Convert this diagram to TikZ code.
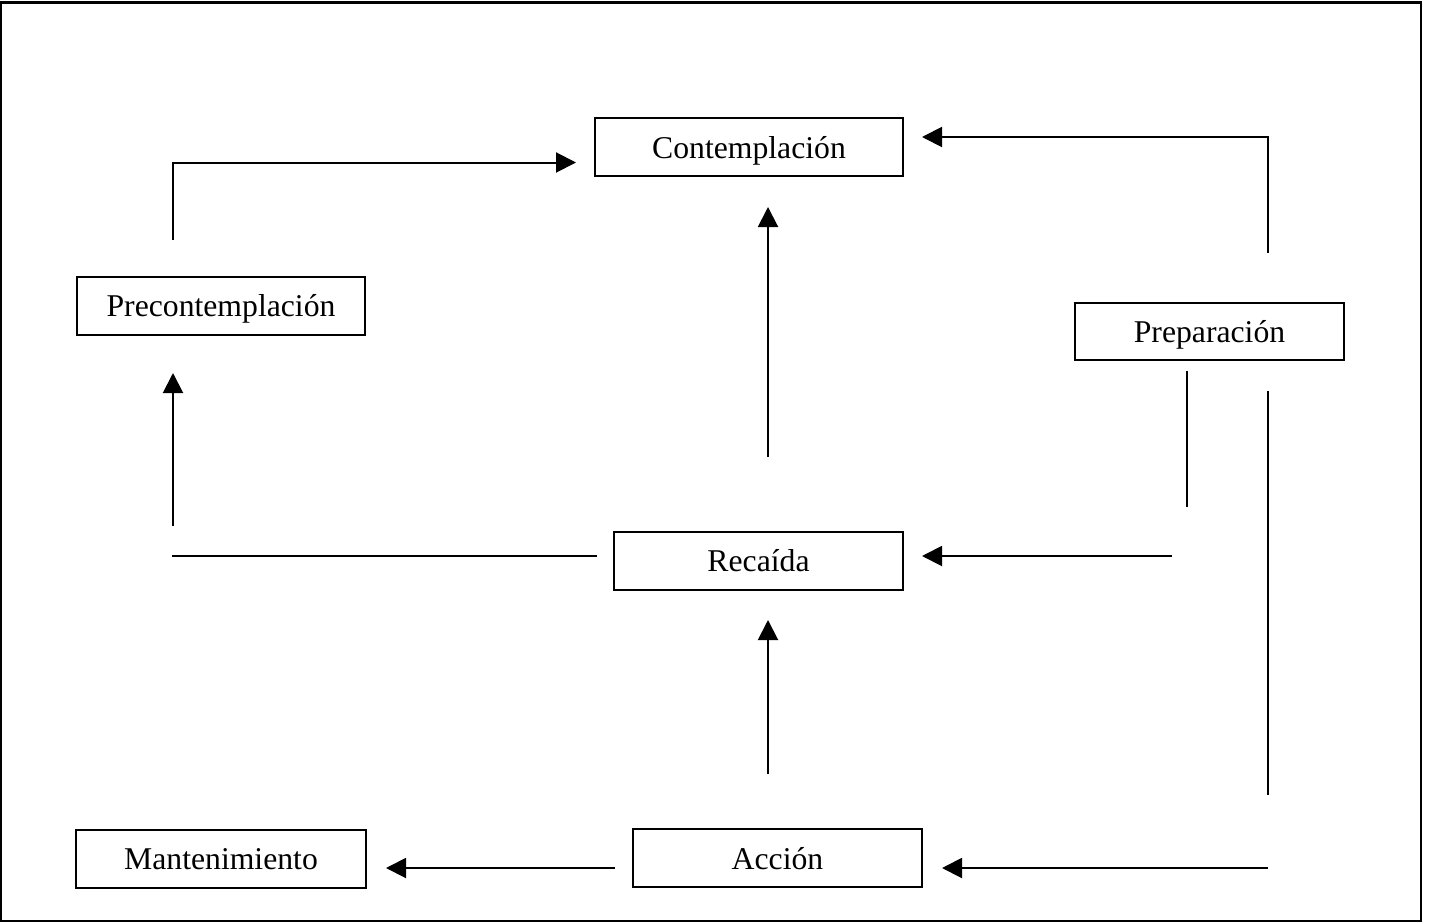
\documentclass[tikz,border=0pt]{standalone}
\usepackage{fontspec}
\setmainfont{Liberation Serif}
\usetikzlibrary{arrows.meta}
\begin{document}
\begin{tikzpicture}[x=1pt,y=-1pt,
  stage/.style={draw=black,line width=2pt,rectangle,minimum height=58pt,inner sep=0pt,
    text height=22pt,text depth=0pt,
    font=\fontsize{31.7}{36}\selectfont},
  arr/.style={line width=2pt,-{Triangle[length=20pt,width=20pt]}},
  plain/.style={line width=2pt}]
\useasboundingbox (0,0) rectangle (1431,923);
\fill[white] (0,0) rectangle (1431,923);
\draw[line width=2.5pt] (1,2.5) rectangle (1421,921);

\node[stage,minimum width=308pt] (cont) at (749,147) {Contemplación};
\node[stage,minimum width=288pt] (pre)  at (221,305.5) {Precontemplación};
\node[stage,minimum width=269pt,minimum height=57pt] (prep) at (1209.5,331.5) {Preparación};
\node[stage,minimum width=289pt] (rec)  at (758.5,560.5) {Recaída};
\node[stage,minimum width=290pt] (mant) at (221,858.5) {Mantenimiento};
\node[stage,minimum width=289pt] (acc)  at (777.5,858) {Acción};

\coordinate (a1) at (173,240);   \coordinate (a2) at (576,162.5);
\coordinate (b1) at (1267.5,253);\coordinate (b2) at (922,137);
\coordinate (c1) at (768,457);   \coordinate (c2) at (768,207);
\coordinate (d1) at (173,526);   \coordinate (d2) at (173,373);
\coordinate (e1) at (597,556);   \coordinate (e2) at (172,556);
\coordinate (f1) at (1187,371);  \coordinate (f2) at (1187,507);
\coordinate (g1) at (1172,556);  \coordinate (g2) at (922,556);
\coordinate (h1) at (1268,391);  \coordinate (h2) at (1268,795);
\coordinate (i1) at (1268,868);  \coordinate (i2) at (942,868);
\coordinate (j1) at (768,774);   \coordinate (j2) at (768,620);
\coordinate (k1) at (615,868);   \coordinate (k2) at (386,868);

\draw[arr] (a1) |- (a2);
\draw[arr] (b1) |- (b2);
\draw[arr] (c1) -- (c2);
\draw[arr] (d1) -- (d2);
\draw[plain] (e1) -- (e2);
\draw[plain] (f1) -- (f2);
\draw[arr] (g1) -- (g2);
\draw[plain] (h1) -- (h2);
\draw[arr] (i1) -- (i2);
\draw[arr] (j1) -- (j2);
\draw[arr] (k1) -- (k2);
\end{tikzpicture}
\end{document}
